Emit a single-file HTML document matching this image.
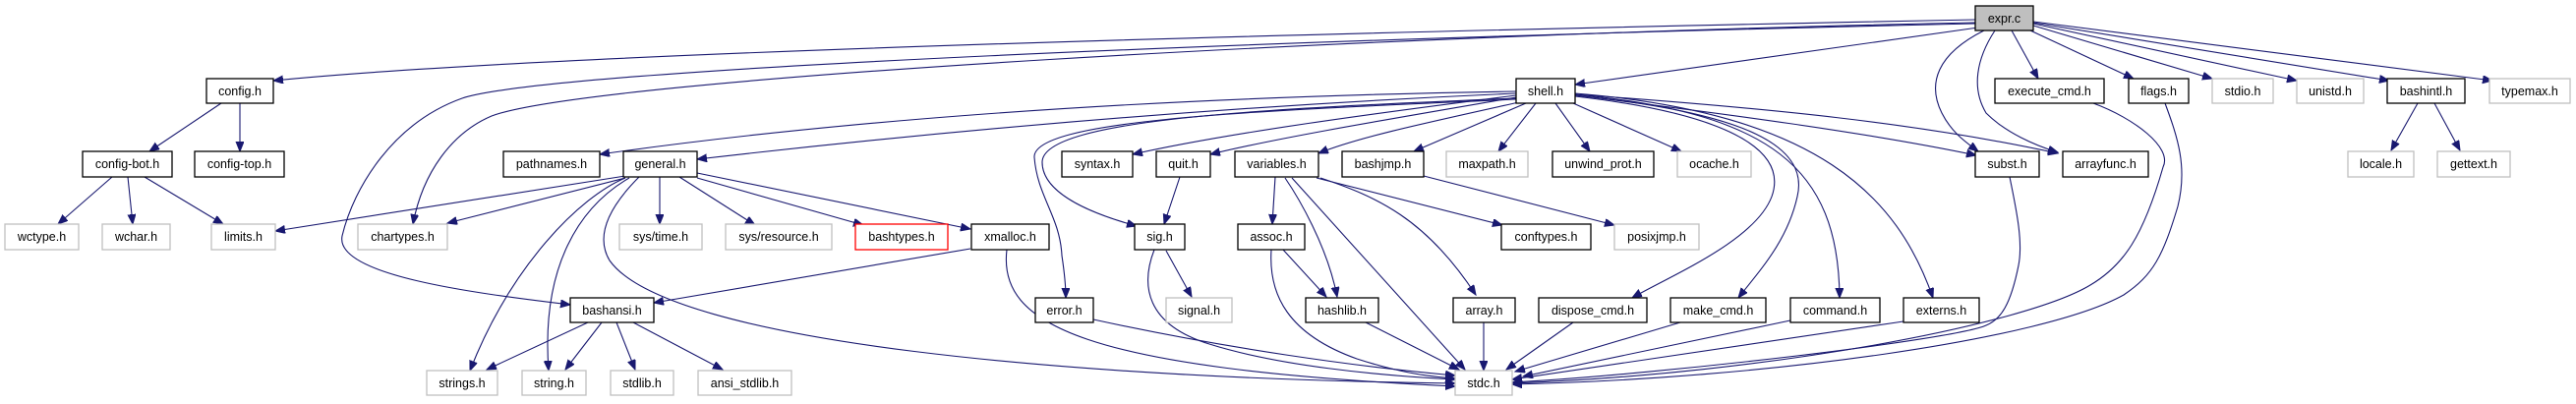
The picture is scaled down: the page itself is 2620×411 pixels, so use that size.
<!DOCTYPE html>
<html><head><meta charset="utf-8"><style>
html,body{margin:0;padding:0;background:#fff;}
svg{display:block;}
text{font-family:"Liberation Sans",sans-serif;font-size:12.5px;fill:#000;text-anchor:middle;}
.b{fill:#fff;stroke:#000;stroke-width:1.3;}
.g{fill:#fff;stroke:#bfbfbf;stroke-width:1.3;}
.r{fill:#fff;stroke:#ff0000;stroke-width:1.3;}
.e{fill:none;stroke:#191970;stroke-width:1.1;marker-end:url(#a);}
</style></head><body>
<svg width="2620" height="411" viewBox="0 0 2620 411" xmlns="http://www.w3.org/2000/svg">
<defs><marker id="a" markerUnits="userSpaceOnUse" markerWidth="12" markerHeight="10" refX="10" refY="4" orient="auto"><path d="M0,0 L10,4 L0,8 Z" fill="#191970" stroke="#191970"/></marker></defs>
<g>
<!-- expr.c edges -->
<path class="e" d="M2009,20 C1500,30 600,50 278,82"/>
<path class="e" d="M2009,23 C1400,35 600,80 500,118 C460,135 430,175 420,228"/>
<path class="e" d="M2009,24 C1300,40 560,70 470,100 C400,125 360,190 348,240 C340,280 480,298 580,310"/>
<path class="e" d="M2012,28 L1602,86"/>
<path class="e" d="M2018,31 C1970,55 1960,85 1975,115 C1985,135 2000,145 2012,154"/>
<path class="e" d="M2029,31 C2010,60 2005,90 2020,115 C2040,135 2070,148 2093,155"/>
<path class="e" d="M2046,31 L2073,80"/>
<path class="e" d="M2065,31 L2170,80"/>
<path class="e" d="M2068,26 L2250,80"/>
<path class="e" d="M2068,24 L2336,82"/>
<path class="e" d="M2068,23 L2430,82"/>
<path class="e" d="M2068,22 L2535,82"/>
<!-- shell.h edges -->
<path class="e" d="M1542,93 C1100,100 800,130 610,157"/>
<path class="e" d="M1542,95 C1200,110 900,140 709,162"/>
<path class="e" d="M1542,97 C1400,115 1250,135 1152,157"/>
<path class="e" d="M1542,99 C1420,120 1300,140 1231,157"/>
<path class="e" d="M1545,104 C1450,125 1380,140 1341,156"/>
<path class="e" d="M1552,105 L1438,154"/>
<path class="e" d="M1562,105 L1524,154"/>
<path class="e" d="M1582,105 L1617,154"/>
<path class="e" d="M1600,105 L1710,154"/>
<path class="e" d="M1602,98 C1750,115 1820,150 1802,200 C1785,245 1700,280 1660,303"/>
<path class="e" d="M1602,97 C1780,115 1840,150 1828,200 C1818,245 1790,275 1768,303"/>
<path class="e" d="M1602,96 C1800,115 1870,170 1871,303"/>
<path class="e" d="M1602,95 C1850,115 1930,200 1966,303"/>
<path class="e" d="M1602,97 C1750,115 1900,135 2010,158"/>
<path class="e" d="M1602,96 C1800,110 1950,125 2093,156"/>
<path class="e" d="M1542,100 C1300,110 1060,120 1060,165 C1060,200 1120,220 1156,230"/>
<path class="e" d="M1542,101 C1300,112 1050,120 1052,160 C1055,200 1078,220 1080,260 C1083,280 1084,290 1084,303"/>
<!-- config -->
<path class="e" d="M225,105 L152,154"/>
<path class="e" d="M244,105 L244,154"/>
<path class="e" d="M114,180 L59,228"/>
<path class="e" d="M130,180 L135,228"/>
<path class="e" d="M147,180 L227,228"/>
<!-- general.h -->
<path class="e" d="M636,179 L280,235"/>
<path class="e" d="M636,181 L455,227"/>
<path class="e" d="M636,181 C590,200 520,270 478,377"/>
<path class="e" d="M640,181 C590,210 550,270 558,377"/>
<path class="e" d="M650,180 C620,210 605,240 620,265 C680,350 1100,385 1480,390"/>
<path class="e" d="M671,180 L671,228"/>
<path class="e" d="M691,180 L768,229"/>
<path class="e" d="M709,181 L878,229"/>
<path class="e" d="M709,176 L987,233"/>
<!-- xmalloc -->
<path class="e" d="M987,253 L665,308"/>
<path class="e" d="M1024,254 C1015,330 1100,375 1480,393"/>
<!-- bashansi -->
<path class="e" d="M598,328 L495,376"/>
<path class="e" d="M612,328 L575,376"/>
<path class="e" d="M627,328 L646,376"/>
<path class="e" d="M644,328 L735,376"/>
<!-- sig/quit/error -->
<path class="e" d="M1200,180 L1184,228"/>
<path class="e" d="M1186,255 L1212,302"/>
<path class="e" d="M1174,254 C1160,290 1165,330 1230,350 C1300,372 1400,382 1480,386"/>
<path class="e" d="M1112,325 C1250,355 1380,373 1480,382"/>
<!-- variables -->
<path class="e" d="M1297,180 L1294,228"/>
<path class="e" d="M1307,181 C1320,200 1350,250 1360,302"/>
<path class="e" d="M1314,181 L1490,376"/>
<path class="e" d="M1343,181 C1400,200 1450,222 1501,300"/>
<path class="e" d="M1339,181 L1528,229"/>
<path class="e" d="M1448,179 L1642,229"/>
<path class="e" d="M1305,254 L1349,302"/>
<path class="e" d="M1293,254 C1290,300 1310,340 1380,365 C1420,378 1450,383 1480,385"/>
<path class="e" d="M1389,328 L1484,376"/>
<path class="e" d="M1509,328 L1509,377"/>
<path class="e" d="M1600,328 L1532,376"/>
<path class="e" d="M1709,328 L1541,378"/>
<path class="e" d="M1821,326 L1549,383"/>
<path class="e" d="M1936,327 L1538,386"/>
<path class="e" d="M2044,180 C2050,210 2058,245 2053,270 C2045,310 2035,325 2020,331 C1990,345 1700,380 1538,389"/>
<path class="e" d="M2129,105 C2170,120 2210,150 2200,170 C2180,240 2160,270 2126,290 C2060,330 1800,380 1538,390"/>
<path class="e" d="M2202,105 C2215,140 2225,170 2215,210 C2200,260 2190,280 2160,300 C2080,345 1800,385 1538,391"/>
<!-- bashintl -->
<path class="e" d="M2459,105 L2432,153"/>
<path class="e" d="M2476,105 L2502,153"/>
</g>
<g>
<rect x="2009" y="6" width="59" height="25" fill="#bfbfbf" stroke="#000" stroke-width="1.3"/><text x="2038.5" y="23">expr.c</text>
<rect class="b" x="210" y="80" width="68" height="25"/><text x="244" y="97">config.h</text>
<rect class="b" x="1542" y="80" width="60" height="25"/><text x="1572" y="97">shell.h</text>
<rect class="b" x="2029" y="80" width="111" height="25"/><text x="2084.5" y="97">execute_cmd.h</text>
<rect class="b" x="2165" y="80" width="61" height="25"/><text x="2195.5" y="97">flags.h</text>
<rect class="g" x="2250" y="80" width="62" height="25"/><text x="2281" y="97">stdio.h</text>
<rect class="g" x="2336" y="80" width="68" height="25"/><text x="2370" y="97">unistd.h</text>
<rect class="b" x="2428" y="80" width="79" height="25"/><text x="2467.5" y="97">bashintl.h</text>
<rect class="g" x="2532" y="80" width="82" height="25"/><text x="2573" y="97">typemax.h</text>

<rect class="b" x="84" y="154" width="91" height="26"/><text x="129.5" y="171">config-bot.h</text>
<rect class="b" x="198" y="154" width="91" height="26"/><text x="243.5" y="171">config-top.h</text>
<rect class="b" x="512" y="154" width="98" height="26"/><text x="561" y="171">pathnames.h</text>
<rect class="b" x="634" y="154" width="75" height="26"/><text x="671.5" y="171">general.h</text>
<rect class="b" x="1080" y="154" width="72" height="26"/><text x="1116" y="171">syntax.h</text>
<rect class="b" x="1176" y="154" width="55" height="26"/><text x="1203.5" y="171">quit.h</text>
<rect class="b" x="1256" y="154" width="85" height="26"/><text x="1298.5" y="171">variables.h</text>
<rect class="b" x="1365" y="154" width="83" height="26"/><text x="1406.5" y="171">bashjmp.h</text>
<rect class="g" x="1471" y="154" width="83" height="26"/><text x="1512.5" y="171">maxpath.h</text>
<rect class="b" x="1579" y="154" width="103" height="26"/><text x="1630.5" y="171">unwind_prot.h</text>
<rect class="g" x="1706" y="154" width="75" height="26"/><text x="1743.5" y="171">ocache.h</text>
<rect class="b" x="2009" y="154" width="65" height="26"/><text x="2041.5" y="171">subst.h</text>
<rect class="b" x="2098" y="154" width="87" height="26"/><text x="2141.5" y="171">arrayfunc.h</text>
<rect class="g" x="2388" y="154" width="67" height="26"/><text x="2421.5" y="171">locale.h</text>
<rect class="g" x="2479" y="154" width="74" height="26"/><text x="2516" y="171">gettext.h</text>

<rect class="g" x="5" y="228" width="75" height="26"/><text x="42.5" y="245">wctype.h</text>
<rect class="g" x="104" y="228" width="69" height="26"/><text x="138.5" y="245">wchar.h</text>
<rect class="g" x="215" y="228" width="65" height="26"/><text x="247.5" y="245">limits.h</text>
<rect class="g" x="364" y="228" width="91" height="26"/><text x="409.5" y="245">chartypes.h</text>
<rect class="g" x="630" y="228" width="84" height="26"/><text x="672" y="245">sys/time.h</text>
<rect class="g" x="738" y="228" width="108" height="26"/><text x="792" y="245">sys/resource.h</text>
<rect class="r" x="870" y="228" width="94" height="26"/><text x="917" y="245">bashtypes.h</text>
<rect class="b" x="988" y="228" width="79" height="26"/><text x="1027.5" y="245">xmalloc.h</text>
<rect class="b" x="1154" y="228" width="51" height="26"/><text x="1179.5" y="245">sig.h</text>
<rect class="b" x="1259" y="228" width="68" height="26"/><text x="1293" y="245">assoc.h</text>
<rect class="b" x="1527" y="228" width="91" height="26"/><text x="1572.5" y="245">conftypes.h</text>
<rect class="g" x="1642" y="228" width="86" height="26"/><text x="1685" y="245">posixjmp.h</text>

<rect class="b" x="580" y="303" width="85" height="25"/><text x="622.5" y="320">bashansi.h</text>
<rect class="b" x="1053" y="303" width="59" height="25"/><text x="1082.5" y="320">error.h</text>
<rect class="g" x="1186" y="303" width="67" height="25"/><text x="1219.5" y="320">signal.h</text>
<rect class="b" x="1328" y="303" width="74" height="25"/><text x="1365" y="320">hashlib.h</text>
<rect class="b" x="1478" y="303" width="63" height="25"/><text x="1509.5" y="320">array.h</text>
<rect class="b" x="1565" y="303" width="110" height="25"/><text x="1620" y="320">dispose_cmd.h</text>
<rect class="b" x="1699" y="303" width="97" height="25"/><text x="1747.5" y="320">make_cmd.h</text>
<rect class="b" x="1821" y="303" width="91" height="25"/><text x="1866.5" y="320">command.h</text>
<rect class="b" x="1936" y="303" width="77" height="25"/><text x="1974.5" y="320">externs.h</text>

<rect class="g" x="434" y="377" width="72" height="25"/><text x="470" y="394">strings.h</text>
<rect class="g" x="531" y="377" width="65" height="25"/><text x="563.5" y="394">string.h</text>
<rect class="g" x="621" y="377" width="64" height="25"/><text x="653" y="394">stdlib.h</text>
<rect class="g" x="710" y="377" width="95" height="25"/><text x="757.5" y="394">ansi_stdlib.h</text>
<rect class="g" x="1480" y="377" width="58" height="25"/><text x="1509" y="394">stdc.h</text>
</g>
</svg>
</body></html>
